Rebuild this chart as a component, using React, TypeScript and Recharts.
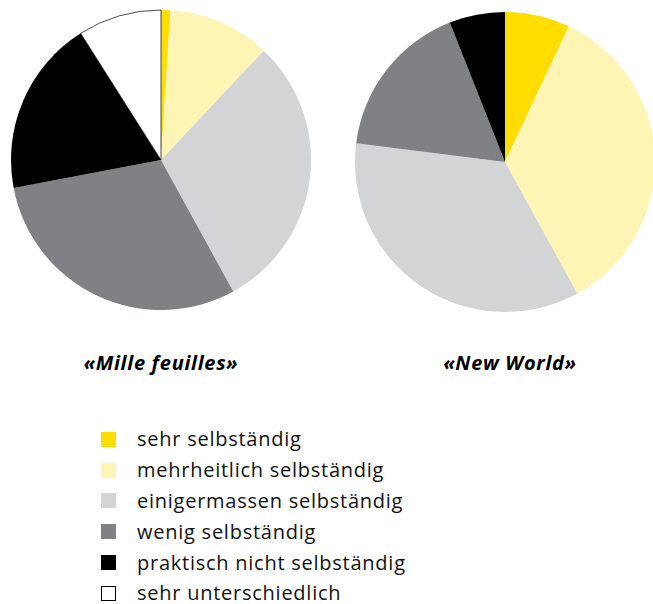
import { PieChart, Pie, Cell } from "recharts"

// Legend categories, in drawing order (clockwise from 12 o'clock)
const categories = [
  "sehr selbständig",
  "mehrheitlich selbständig",
  "einigermassen selbständig",
  "wenig selbständig",
  "praktisch nicht selbständig",
  "sehr unterschiedlich",
]

const colors = ["#FFDD00", "#FEF4B4", "#D3D4D6", "#808184", "#000000", "#FFFFFF"]

// Shares in percent
const milleFeuilles = [1, 11, 30, 30, 19, 9]
const newWorld = [7, 35, 35, 17, 6, 0]

const titles = ["«Mille feuilles»", "«New World»"]

const toRows = (values: number[]) =>
  categories.map((name, i) => ({ name, value: values[i] }))

const FONT = "'Open Sans', 'Noto Sans', sans-serif"

export default function App() {
  const left = toRows(milleFeuilles)
  const right = toRows(newWorld)

  return (
    <div
      style={{
        position: "absolute",
        left: 0,
        top: 0,
        width: 653,
        height: 604,
        background: "#fff",
        fontFamily: FONT,
        overflow: "hidden",
      }}
    >
      <PieChart width={653} height={330} margin={{ top: 0, right: 0, bottom: 0, left: 0 }}>
        <Pie
          data={left}
          dataKey="value"
          cx={161}
          cy={160}
          outerRadius={150}
          startAngle={90}
          endAngle={-270}
          stroke="none"
          isAnimationActive={false}
        >
          {left.map((d, i) => (
            <Cell
              key={d.name}
              fill={colors[i]}
              stroke={i === 5 ? "#000" : "none"}
              strokeWidth={i === 5 ? 0.7 : 0}
            />
          ))}
        </Pie>
        <Pie
          data={right}
          dataKey="value"
          cx={505}
          cy={162}
          outerRadius={150}
          startAngle={90}
          endAngle={-270}
          stroke="none"
          isAnimationActive={false}
        >
          {right.map((d, i) => (
            <Cell key={d.name} fill={colors[i]} stroke="none" />
          ))}
        </Pie>
      </PieChart>

      {/* chart titles */}
      {titles.map((t, i) => (
        <div
          key={t}
          style={{
            position: "absolute",
            top: 350,
            left: i === 0 ? 61 : 410,
            width: 200,
            textAlign: "center",
            fontSize: 20,
            fontWeight: 700,
            fontStyle: "italic",
            letterSpacing: 0.7,
            lineHeight: "26px",
            color: "#000",
          }}
        >
          {t}
        </div>
      ))}

      {/* legend */}
      <div style={{ position: "absolute", left: 101, top: 424 }}>
        {categories.map((c, i) => (
          <div
            key={c}
            style={{ display: "flex", alignItems: "center", height: 30.8 }}
          >
            <span
              style={{
                display: "inline-block",
                width: i === 5 ? 13 : 15,
                height: i === 5 ? 13 : 15,
                background: colors[i],
                border: i === 5 ? "1px solid #000" : "none",
                marginRight: 21,
              }}
            />
            <span
              style={{
                fontSize: 20,
                color: "#111",
                letterSpacing: 0.75,
                lineHeight: "18px",
              }}
            >
              {c}
            </span>
          </div>
        ))}
      </div>
    </div>
  )
}
